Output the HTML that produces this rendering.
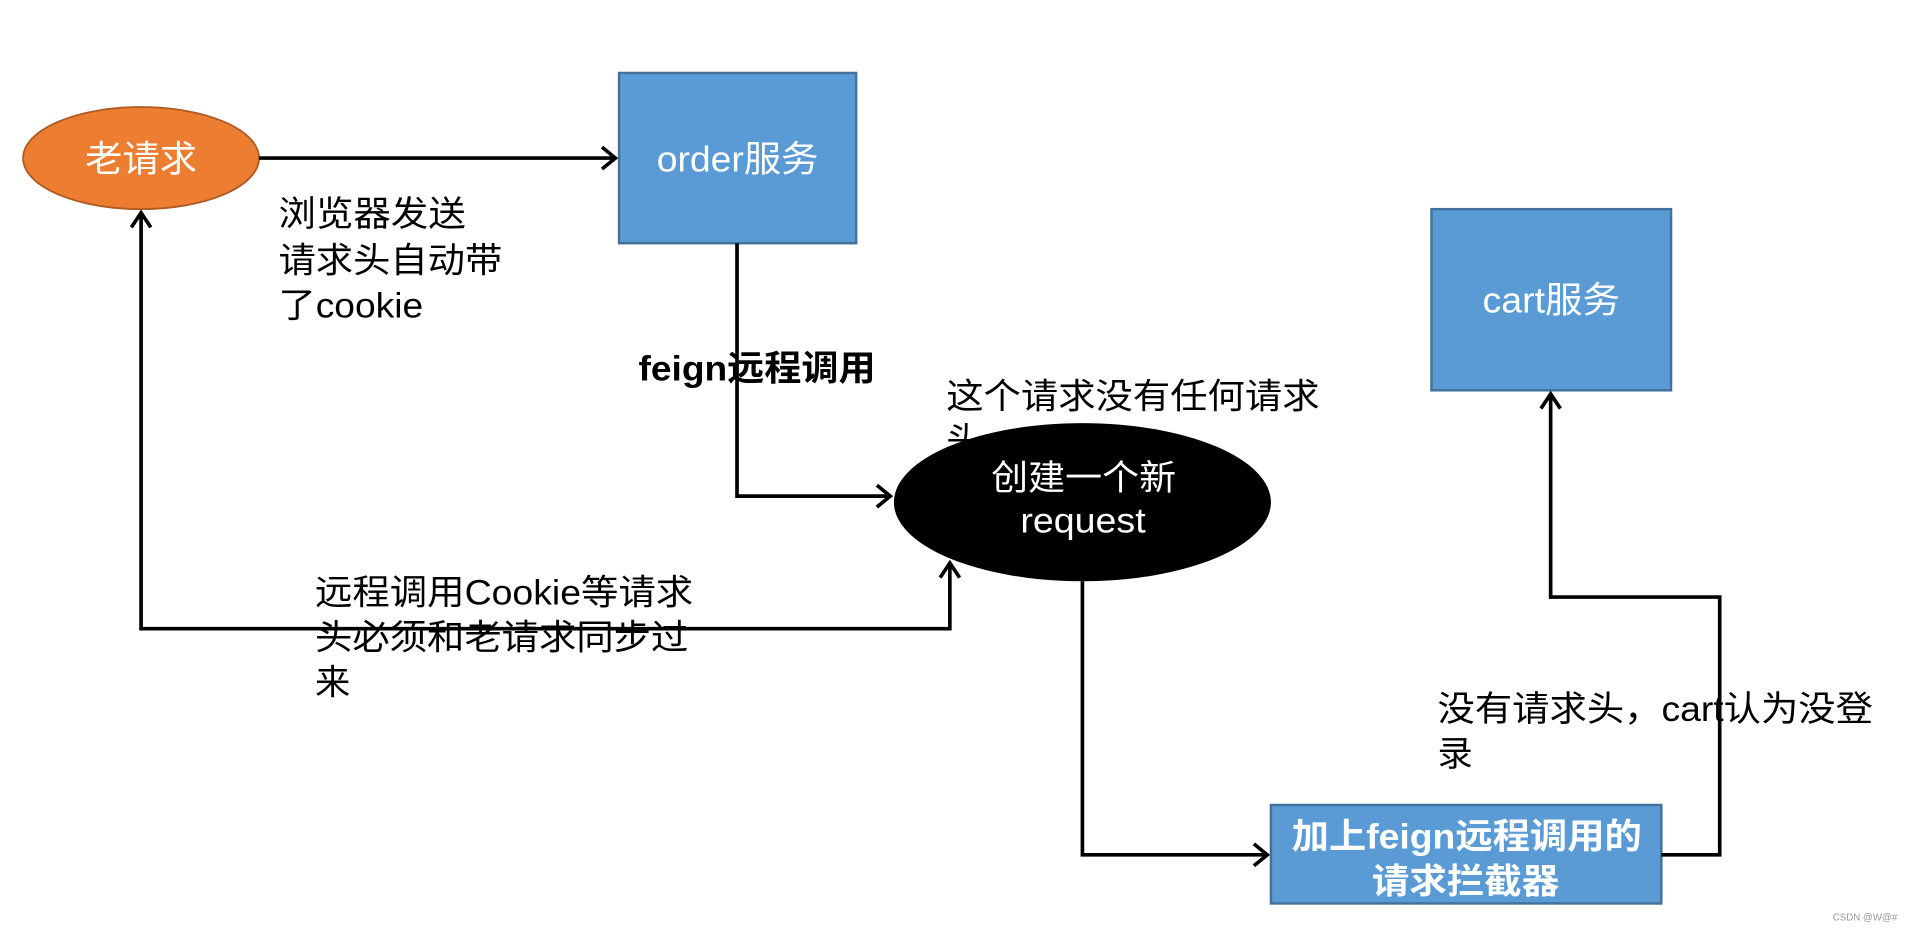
<!DOCTYPE html>
<html><head><meta charset="utf-8">
<style>
html,body{margin:0;padding:0;background:#fff;}
svg{display:block;}
text{font-family:"Liberation Sans","Noto Sans CJK SC",sans-serif;}
</style></head>
<body>
<svg width="1907" height="929" viewBox="0 0 1568 764" preserveAspectRatio="none" xmlns="http://www.w3.org/2000/svg">
<rect width="1568" height="764" fill="#fff"/>
<g font-size="29" fill="#000" lengthAdjust="spacingAndGlyphs">
<text x="778" y="336" textLength="307" lengthAdjust="spacingAndGlyphs">这个请求没有任何请求</text>
<text x="778" y="372">头</text>
<text x="229" y="186" textLength="154" lengthAdjust="spacingAndGlyphs">浏览器发送</text>
<text x="229" y="224" textLength="184" lengthAdjust="spacingAndGlyphs">请求头自动带</text>
<text x="229" y="261" textLength="119" lengthAdjust="spacingAndGlyphs">了cookie</text>
<text x="259" y="497" textLength="311" lengthAdjust="spacingAndGlyphs">远程调用Cookie等请求</text>
<text x="259" y="534" textLength="307" lengthAdjust="spacingAndGlyphs">头必须和老请求同步过</text>
<text x="259" y="571">来</text>
<text x="1182" y="593" textLength="358" lengthAdjust="spacingAndGlyphs">没有请求头，cart认为没登</text>
<text x="1182" y="630">录</text>
<text x="525" y="313" font-weight="bold" textLength="195" lengthAdjust="spacingAndGlyphs">feign远程调用</text>
</g>
<ellipse cx="116" cy="130" rx="97" ry="42" fill="#ED7D31" stroke="#AE5A21" stroke-width="1.5"/>
<text x="70" y="141" font-size="30" fill="#fff" textLength="92" lengthAdjust="spacingAndGlyphs">老请求</text>
<rect x="509" y="60" width="195" height="140" fill="#5B9BD5" stroke="#41719C" stroke-width="2"/>
<text x="540" y="141" font-size="30" fill="#fff" textLength="133" lengthAdjust="spacingAndGlyphs">order服务</text>
<rect x="1177" y="172" width="197" height="149" fill="#5B9BD5" stroke="#41719C" stroke-width="2"/>
<text x="1219" y="257" font-size="30" fill="#fff" textLength="113" lengthAdjust="spacingAndGlyphs">cart服务</text>
<ellipse cx="890" cy="413" rx="155" ry="65" fill="#000"/>
<text x="815" y="403" font-size="29" fill="#fff" textLength="152" lengthAdjust="spacingAndGlyphs">创建一个新</text>
<text x="839" y="438" font-size="29" fill="#fff" textLength="103" lengthAdjust="spacingAndGlyphs">request</text>
<rect x="1045" y="662" width="321" height="81" fill="#5B9BD5" stroke="#41719C" stroke-width="2"/>
<text x="1062" y="698" font-size="29" fill="#fff" font-weight="bold" textLength="288" lengthAdjust="spacingAndGlyphs">加上feign远程调用的</text>
<text x="1128" y="735" font-size="29" fill="#fff" font-weight="bold" textLength="154" lengthAdjust="spacingAndGlyphs">请求拦截器</text>
<g fill="none" stroke="#000" stroke-width="3">
<polyline points="213,130 505,130"/>
<polyline points="495,121 506,130 495,139"/>
<polyline points="606,200 606,408 731,408"/>
<polyline points="721,399 732,408 721,417"/>
<polyline points="116,176 116,517 781,517 781,464"/>
<polyline points="108,187 116,175 124,187"/>
<polyline points="773,475 781,463 789,475"/>
<polyline points="890,478 890,703 1041,703"/>
<polyline points="1031,694 1042,703 1031,712"/>
<polyline points="1366,703 1414,703 1414,491 1275,491 1275,325"/>
<polyline points="1267,336 1275,324 1283,336"/>
</g>
<text x="1560" y="757" font-size="8" fill="#999" text-anchor="end">CSDN @W@#</text>
</svg>
</body></html>
